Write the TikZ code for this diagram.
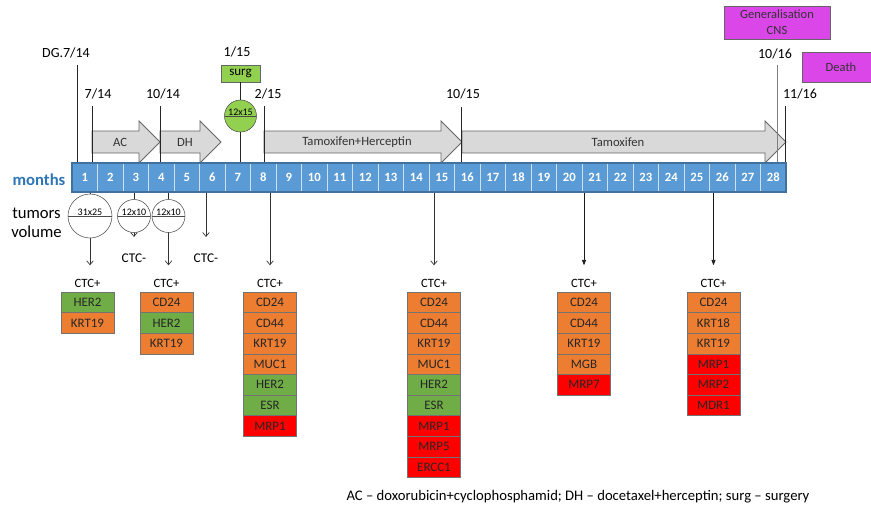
\documentclass[tikz,border=0pt]{standalone}
\usepackage{fontspec}
\setmainfont{Carlito}
\usetikzlibrary{calc}
\usetikzlibrary{arrows.meta}
\usetikzlibrary{shapes.multipart}

\definecolor{barblue}{RGB}{91,155,213}
\definecolor{barline}{RGB}{65,113,156}
\definecolor{monthblue}{RGB}{46,117,182}
\definecolor{markorange}{RGB}{237,125,49}
\definecolor{markgreen}{RGB}{112,173,71}
\definecolor{markred}{RGB}{255,0,0}
\definecolor{surggreen}{RGB}{146,208,80}
\definecolor{eventpink}{RGB}{218,70,232}
\definecolor{therapygray}{RGB}{217,217,217}

\tikzset{
    monthcell/.style={draw=white!70!barblue, fill=barblue, text=white, inner sep=0pt,
        minimum width=19.125pt, minimum height=21.75pt, font=\bfseries\fontsize{9.5}{11}\selectfont},
    datelabel/.style={inner sep=1pt, font=\fontsize{10.5}{12}\selectfont},
    therapy/.style={draw=black!60, fill=therapygray, line width=0.6pt},
    therapytext/.style={text=black!80, font=\fontsize{9.5}{11}\selectfont},
    genebox/.style={draw=black!55, fill=#1, inner sep=0pt, minimum width=39.75pt,
        minimum height=15.45pt, text=black!85, font=\fontsize{9.7}{11}\selectfont},
    tumor/.style={circle split, draw=black!70, fill=white, inner sep=0.5pt,
        minimum size=#1, font=\fontsize{7.5}{8}\selectfont},
    eventbox/.style={draw=black!60, fill=eventpink, inner sep=0pt, align=center,
        text=black!80, font=\fontsize{9.4}{12}\selectfont},
    ctclabel/.style={inner sep=1pt, font=\fontsize{9.5}{11}\selectfont},
    sample/.style={-{Straight Barb[length=3pt,width=5pt]}, black!80, line width=0.5pt, shorten >=9pt},
    samplefill/.style={-{Triangle[length=4pt,width=3pt]}, black!90, line width=0.5pt, shorten >=9pt}
}

\begin{document}
\begin{tikzpicture}[x=0.75pt, y=-0.75pt]
        \useasboundingbox (0,0) rectangle (871,512);

        % Therapy arrows
        \foreach \xa/\xb/\xt/\name/\txt in {92/160/120/ac/AC, 160/221/185/dh/DH,
                264/462/357/th/Tamoxifen+Herceptin, 462/786/618/tx/Tamoxifen} {
            \draw[therapy] (\xa,131) -- ({\xb-21},131) -- ({\xb-21},121) -- (\xb,142)
                -- ({\xb-21},163) -- ({\xb-21},153) -- (\xa,153) -- cycle;
            \node[therapytext] (\name) at (\xt,142) {\txt};
        }

        % Months bar
        \foreach \i in {1,...,28}
            \node[monthcell] (m\i) at ({72+(\i-0.5)*25.5},177.5) {\i};
        \node[draw=barline, line width=0.8pt, minimum width=535.5pt, minimum height=21.75pt] (bar) at (429,177.5) {};
        \node[text=monthblue, font=\bfseries\fontsize{12.5}{14}\selectfont] (months) at (39,180) {months};
        \node[align=center, font=\fontsize{12.5}{14.5}\selectfont] (volume) at (36.5,223) {tumors\\volume};

        % Dates
        \node[datelabel] (dg) at (66,53) {DG.7/14};
        \node[datelabel] (d714) at (98,94) {7/14};
        \node[datelabel] (d1014) at (163,94) {10/14};
        \node[datelabel] (d115) at (237,52) {1/15};
        \node[datelabel] (d215) at (268,94) {2/15};
        \node[datelabel] (d1015) at (463,94) {10/15};
        \node[datelabel] (d1016) at (775,54) {10/16};
        \node[datelabel] (d1116) at (800,94) {11/16};

        \coordinate (dgtop) at (77,65);
        \coordinate (c714) at (92,106);
        \coordinate (c1014) at (160,106);
        \coordinate (c215) at (264,106);
        \coordinate (c1015) at (461,107);
        \coordinate (c1016) at (777,65);
        \coordinate (c1116) at (785,106);
        \foreach \c in {dgtop,c714,c1014,c215,c1015,c1116}
            \draw[black!85] (\c) -- (\c |- bar.north);
        \draw[black!50] (c1016) -- (c1016 |- bar.north);

        % Surgery
        \node[draw=black!60, fill=surggreen, minimum width=29.25pt, minimum height=12.75pt, inner sep=0pt,
            font=\fontsize{9.8}{11}\selectfont] (surg) at (240.5,73.5) {surg};
        \node[tumor=24pt, fill=surggreen] (op) at (240.5,116) {12x15};
        \draw[black!85] (surg) -- (op);
        \draw[black!85] (op.south) -- (op.south |- bar.north);

        % Events
        \node[eventbox, minimum width=79.5pt, minimum height=24.75pt] (cns) at (777,22.5) {Generalisation\\CNS};
        \node[eventbox, minimum width=58.5pt, minimum height=22.5pt] (death) at (841,67) {Death};

        % Tumors volume
        \node[tumor=33pt] (t1) at (90,216) {31x25};
        \node[tumor=24.75pt] (t2) at (134,216) {12x10};
        \node[tumor=24.75pt] (t3) at (168.5,216) {12x10};
        \foreach \t in {t1,t2,t3}
            \draw[black!85] (\t.north) -- (\t.north |- bar.south);

        % Samples
        \node[font=\fontsize{10}{12}\selectfont] (neg1) at (134,258) {CTC-};
        \node[font=\fontsize{10}{12}\selectfont] (neg2) at (206,258) {CTC-};
        \draw[sample] (t2.south) -- (t2.south |- neg1.north);
        \draw[sample] (bar.south -| neg2) -- (neg2.north);

        \foreach \col/\x/\list in {A/87.5/{HER2/markgreen,KRT19/markorange},
                B/166.5/{CD24/markorange,HER2/markgreen,KRT19/markorange},
                C/270/{CD24/markorange,CD44/markorange,KRT19/markorange,MUC1/markorange,HER2/markgreen,ESR/markgreen,MRP1/markred},
                D/434/{CD24/markorange,CD44/markorange,KRT19/markorange,MUC1/markorange,HER2/markgreen,ESR/markgreen,MRP1/markred,MRP5/markred,ERCC1/markred},
                E/584/{CD24/markorange,CD44/markorange,KRT19/markorange,MGB/markorange,MRP7/markred},
                F/713.5/{CD24/markorange,KRT18/markorange,KRT19/markorange,MRP1/markred,MRP2/markred,MDR1/markred}} {
            \node[ctclabel] (ctc\col) at (\x,283) {CTC+};
            \foreach \g/\c [count=\k] in \list
                \node[genebox=\c] (\col\k) at (\x,{292+(\k-0.5)*20.6}) {\g};
        }

        \draw[sample] (t1.south) -- (t1.south |- ctcA.north);
        \draw[sample] (t3.south) -- (t3.south |- ctcB.north);
        \draw[sample] (bar.south -| ctcC) -- (ctcC.north);
        \draw[sample] (bar.south -| ctcD) -- (ctcD.north);
        \draw[samplefill] (bar.south -| ctcE) -- (ctcE.north);
        \draw[samplefill] (bar.south -| ctcF) -- (ctcF.north);

        % Legend
        \node[font=\fontsize{11}{13}\selectfont] (legend) at (578,497) {AC -- doxorubicin+cyclophosphamid; DH -- docetaxel+herceptin; surg -- surgery};
    \end{tikzpicture}
\end{document}
